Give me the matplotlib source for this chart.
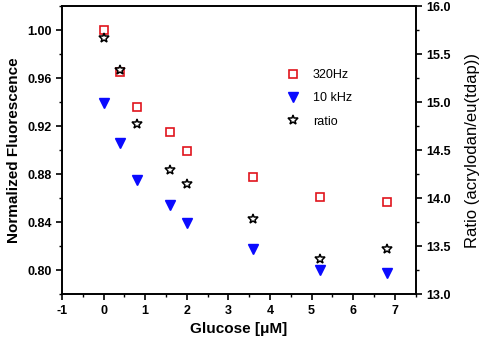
import numpy as np
import matplotlib
matplotlib.use("Agg")
import matplotlib.pyplot as plt
from matplotlib.ticker import MultipleLocator

plt.rcParams['font.family'] = ['Liberation Sans', 'DejaVu Sans']
plt.rcParams['axes.unicode_minus'] = False

# datos
glucosa = [0, 0.4, 0.8, 1.6, 2.0, 3.6, 5.2, 6.8]
f_320hz = [1.000, 0.965, 0.936, 0.915, 0.8995, 0.8775, 0.861, 0.857]
f_10khz = [0.939, 0.906, 0.875, 0.854, 0.839, 0.818, 0.800, 0.7975]
ratio = [15.67, 15.34, 14.77, 14.29, 14.15, 13.78, 13.37, 13.47]

fig = plt.figure(figsize=(4.8, 3.42), dpi=100)
ax = fig.add_axes([0.129, 0.140, 0.737, 0.842])
ax2 = ax.twinx()

h1, = ax.plot(glucosa, f_320hz, 's', mfc='none', mec='#e0141c', mew=1.2, ms=5.5, label='320Hz')
h2, = ax.plot(glucosa, f_10khz, 'v', color='#0a0aff', ms=7.5, label='10 kHz')
h3, = ax2.plot(glucosa, ratio, '*', mfc='white', mec='black', mew=1.1, ms=7.5, label='ratio')

ax.set_xlim(-1, 7.5)
ax.set_ylim(0.78, 1.02)
ax2.set_ylim(13.0, 16.0)

ax.xaxis.set_major_locator(MultipleLocator(1))
ax.xaxis.set_minor_locator(MultipleLocator(0.5))
ax.yaxis.set_major_locator(MultipleLocator(0.04))
ax.yaxis.set_minor_locator(MultipleLocator(0.02))
ax2.yaxis.set_major_locator(MultipleLocator(0.5))
ax2.yaxis.set_minor_locator(MultipleLocator(0.25))

ax.yaxis.set_major_formatter(plt.FormatStrFormatter('%.2f'))
ax2.yaxis.set_major_formatter(plt.FormatStrFormatter('%.1f'))

for a in (ax, ax2):
    a.tick_params(which='major', direction='out', length=4, width=1.2, labelsize=9)
    a.tick_params(which='minor', direction='out', length=2.5, width=1)
    for s in a.spines.values():
        s.set_linewidth(1.2)
    for lab in a.get_xticklabels() + a.get_yticklabels():
        lab.set_fontweight('bold')
ax.tick_params(axis='x', top=False)

ax.set_xlabel('Glucose [\u03bcM]', fontsize=11, fontweight='bold')
ax.set_ylabel('Normalized Fluorescence', fontsize=11, fontweight='bold')
ax2.set_ylabel('Ratio (acrylodan/eu(tdap))', fontsize=12, labelpad=10)

ax.legend(handles=[h1, h2, h3], loc='upper left', bbox_to_anchor=(0.586, 0.82),
          frameon=False, fontsize=9, handletextpad=0.6, labelspacing=0.9)

plt.savefig('out.png', dpi=100)
